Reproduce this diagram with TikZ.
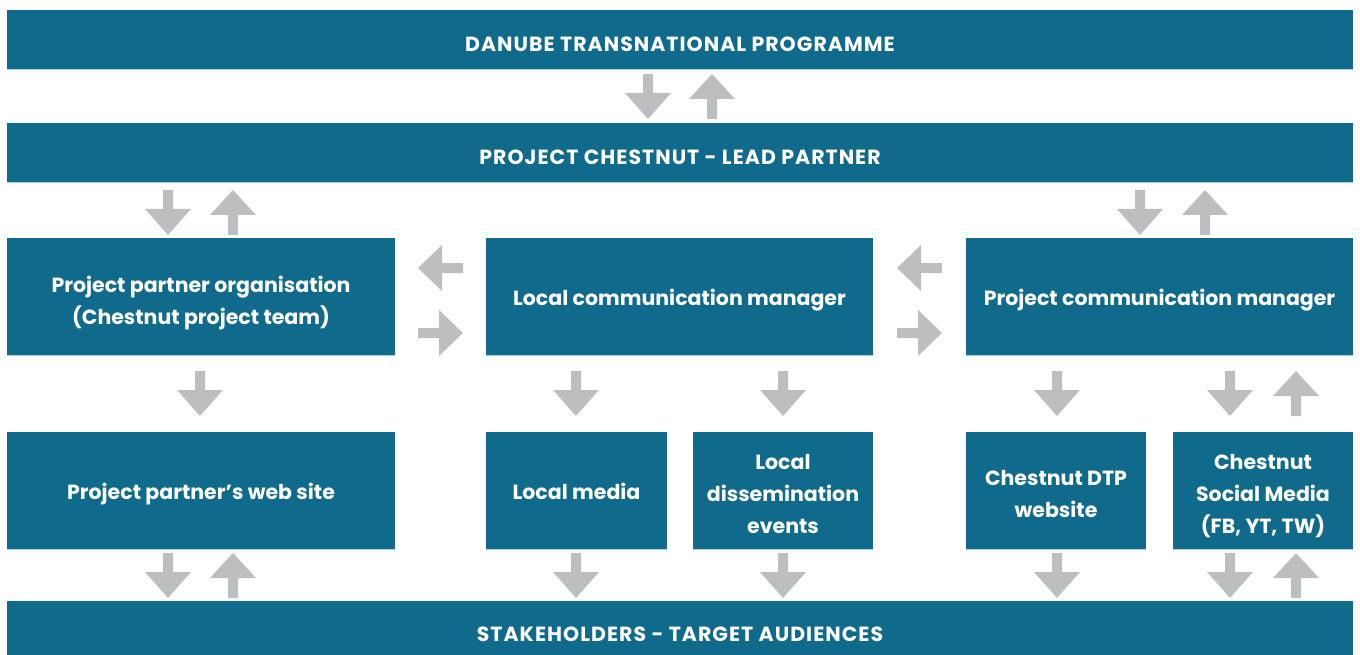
\documentclass[tikz,border=0pt]{standalone}
\usepackage{fontspec}
\setmainfont{Poppins}
\definecolor{boxblue}{HTML}{0F6A8B}
\definecolor{arrowgray}{HTML}{BDBEC0}
\definecolor{edgeblue}{HTML}{A8CFDE}
\begin{document}
\begin{tikzpicture}[x=1pt,y=1pt,
  box/.style={fill=boxblue, inner sep=0pt, outer sep=0pt, anchor=north west},
  % struts at both ends keep every label block a whole number of 32pt lines
  lbl/.style={text=white, inner sep=0pt, yshift=-3pt,
    font=\bfseries\fontsize{20.5}{32}\selectfont, align=center,
    execute at begin node={\strut}, execute at end node={\strut}},
  lbl multi/.style={lbl, yshift=-5.5pt},
  caps/.style={lbl, yshift=-2pt,
    font=\bfseries\fontsize{20.5}{32}\selectfont\addfontfeatures{LetterSpace=5}},
  dn/.pic={\fill[arrowgray] (-5,0) -- (5,0) -- (5,-19) -- (23,-19) -- (0,-45) -- (-23,-19) -- (-5,-19) -- cycle;},
  up/.pic={\fill[arrowgray] (0,0) -- (23,-25) -- (5,-25) -- (5,-45) -- (-5,-45) -- (-5,-25) -- (-23,-25) -- cycle;},
  lt/.pic={\fill[arrowgray] (0,0) -- (24,23) -- (24,5) -- (45,5) -- (45,-5) -- (24,-5) -- (24,-23) -- cycle;},
  rt/.pic={\fill[arrowgray] (0,5) -- (21,5) -- (21,23) -- (45,0) -- (21,-23) -- (21,-5) -- (0,-5) -- cycle;},
  edge line/.style={edgeblue, line width=1pt}
]
\useasboundingbox (0,0) rectangle (1360,-655);

% full-width bars
\node[box, minimum width=1346, minimum height=60, label={[caps]center:DANUBE TRANSNATIONAL PROGRAMME}] (dtp) at (7,-10) {};
\node[box, minimum width=1346, minimum height=60, label={[caps]center:PROJECT CHESTNUT - LEAD PARTNER}] (lead) at (7,-123) {};
\node[box, minimum width=1346, minimum height=54, label={[caps,yshift=-2.5pt]center:STAKEHOLDERS - TARGET AUDIENCES}] (stake) at (7,-601) {};

% middle row
\node[box, minimum width=388, minimum height=117, label={[lbl multi]center:{Project partner organisation\\(Chestnut project team)}}] (org) at (7,-238) {};
\node[box, minimum width=387, minimum height=117, label={[lbl]center:Local communication manager}] (lcm) at (486,-238) {};
\node[box, minimum width=387, minimum height=117, label={[lbl]center:Project communication manager}] (pcm) at (966,-238) {};

% channel row
\node[box, minimum width=388, minimum height=117, label={[lbl]center:Project partner's web site}] (web) at (7,-432) {};
\node[box, minimum width=181, minimum height=117, label={[lbl]center:Local media}] (media) at (486,-432) {};
\node[box, minimum width=180, minimum height=117, label={[lbl multi]center:{Local\\dissemination\\events}}] (events) at (693,-432) {};
\node[box, minimum width=180, minimum height=117, label={[lbl multi]center:{Chestnut DTP\\website}}] (site) at (966,-432) {};
\node[box, minimum width=180, minimum height=117, label={[lbl multi]center:{Chestnut\\Social Media\\(FB, YT, TW)}}] (social) at (1173,-432) {};

% light lower edges
\foreach \b in {dtp,lead,org,lcm,pcm,web,media,events,site,social}
  \draw[edge line] (\b.south west) -- (\b.south east);

% programme <-> lead partner
\pic at (648,-74) {dn};
\pic at (712,-74) {up};

% lead partner <-> middle row
\pic at (168,-190) {dn};
\pic at (233,-190) {up};
\pic at (1140,-190) {dn};
\pic at (1205,-190) {up};

% between middle-row boxes
\pic at (418,-268) {lt};
\pic at (418,-333) {rt};
\pic at (897,-268) {lt};
\pic at (897,-333) {rt};

% middle row -> channels
\pic at (200,-371) {dn};
\pic at (576,-371) {dn};
\pic at (783,-371) {dn};
\pic at (1057,-371) {dn};
\pic at (1230,-371) {dn};
\pic at (1296,-371) {up};

% channels <-> stakeholders
\pic at (168,-553) {dn};
\pic at (233,-553) {up};
\pic at (576,-553) {dn};
\pic at (783,-553) {dn};
\pic at (1057,-553) {dn};
\pic at (1230,-553) {dn};
\pic at (1296,-553) {up};
\end{tikzpicture}
\end{document}
